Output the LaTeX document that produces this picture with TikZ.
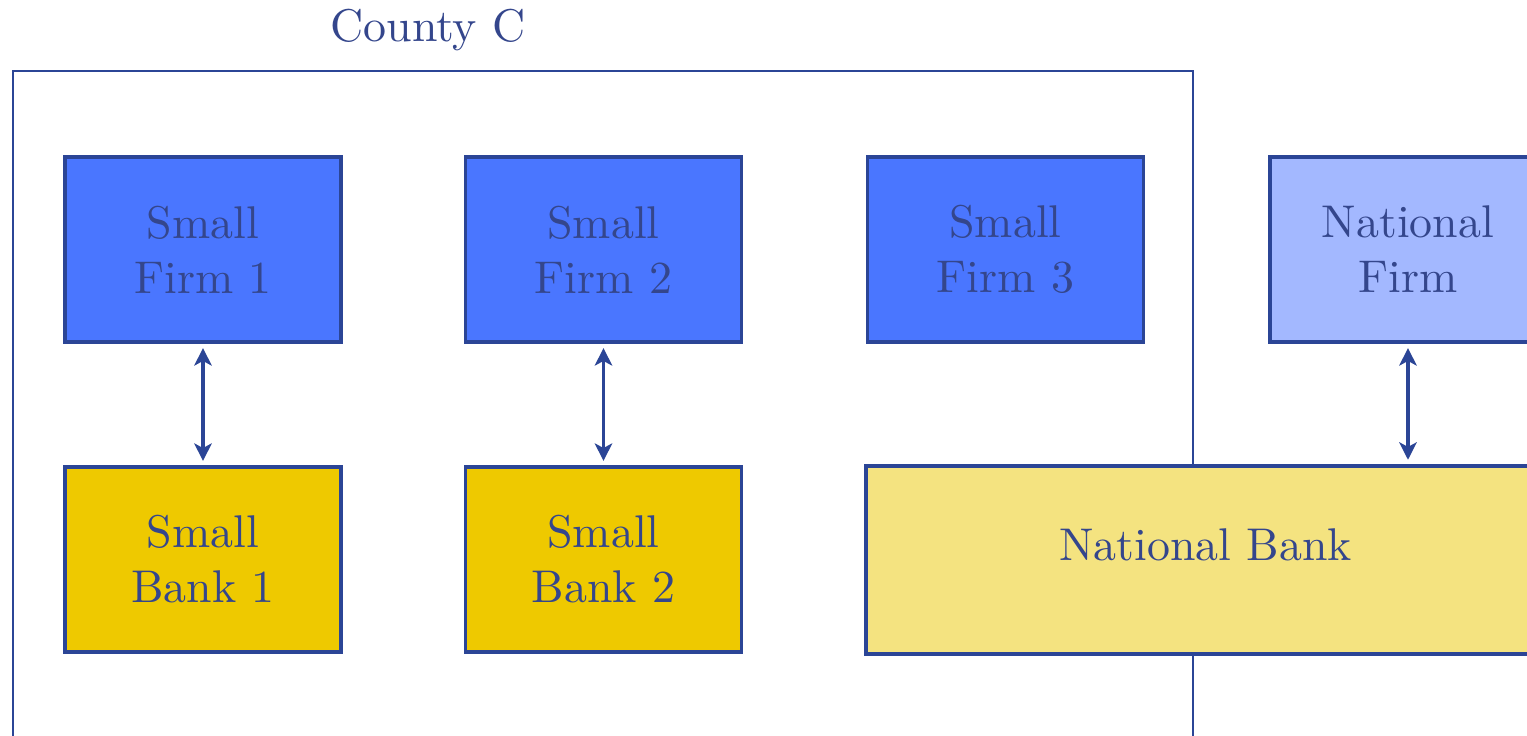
\documentclass[tikz,border=0pt]{standalone}
\usetikzlibrary{arrows.meta}
\definecolor{txtblue}{HTML}{34468C}
\definecolor{edgeblue}{HTML}{2B4596}
\definecolor{firmblue}{HTML}{4A76FF}
\definecolor{natfirm}{HTML}{A3B8FF}
\definecolor{bankyel}{HTML}{EEC900}
\definecolor{natbank}{HTML}{F4E380}
\begin{document}
\begin{tikzpicture}[x=0.218pt,y=-0.218pt,
  box/.style={draw=edgeblue,line width=0.7pt,minimum width=60.2pt,minimum height=40.3pt,inner sep=0pt,align=center,text=txtblue},
  smallfirm/.style={box,fill=firmblue},
  bigfirm/.style={box,fill=natfirm},
  smallbank/.style={box,fill=bankyel},
  bigbank/.style={box,fill=natbank,minimum width=148pt,minimum height=41pt},
  link/.style={draw=edgeblue,line width=0.8pt,{Stealth[length=3.8pt,width=3.8pt,inset=1pt]}-{Stealth[length=3.8pt,width=3.8pt,inset=1pt]},shorten <=1pt,shorten >=1pt}]
\clip (0,0) rectangle (1527,736);
\fill[white] (0,0) rectangle (1527,736);
\draw[edgeblue,line width=0.4pt] (13,900) -- (13,71) -- (1193,71) -- (1193,900);
\node[text=txtblue] (cty) at (428,30) {County C};
\node[smallfirm] (sf1) at (203,249.5) {Small\\Firm 1};
\node[smallfirm] (sf2) at (603.5,249.5) {Small\\Firm 2};
\node[smallfirm] (sf3) at (1005.5,249.5) {Small\\Firm 3};
\node[bigfirm] (nf) at (1408,249.5) {National\\Firm};
\node[smallbank] (sb1) at (203,559.5) {Small\\Bank 1};
\node[smallbank] (sb2) at (603.5,559.5) {Small\\Bank 2};
\node[bigbank] (nb) at (1205.5,560) {\raisebox{6.6pt}{National Bank}};
\draw[link] (sf1) -- (sb1);
\draw[link] (sf2) -- (sb2);
\draw[link] (nf.south) -- (nf.south |- nb.north);
\end{tikzpicture}
\end{document}
